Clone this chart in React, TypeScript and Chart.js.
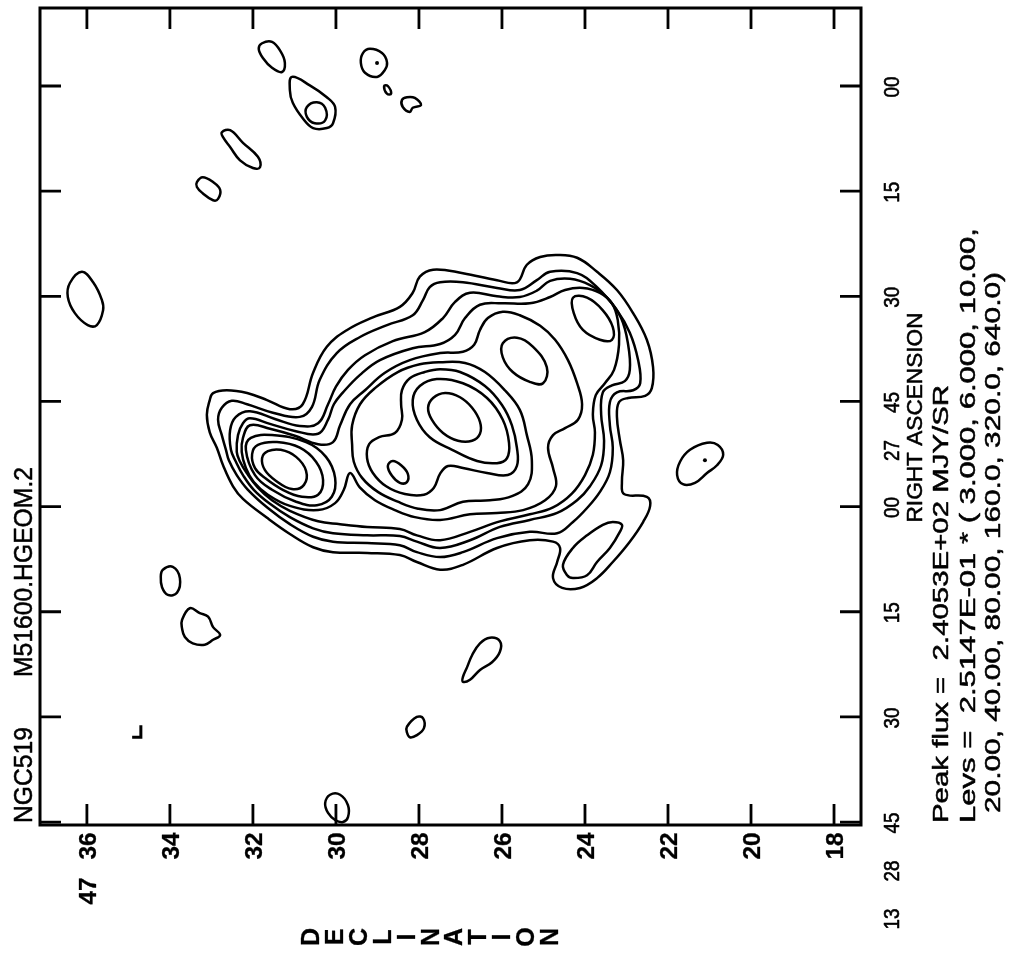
import React, { useEffect, useRef } from 'react';
import { Chart, registerables } from 'chart.js';

Chart.register(...registerables);

// ---- axes (DEC in arcmin past 47 deg, RA in seconds past 13h27m) ----
const decTicks = [36, 34, 32, 30, 28, 26, 24, 22, 20, 18];
const decTickLabels = ['47 36', '34', '32', '30', '28', '26', '24', '22', '20', '18'];
const raTicks = [0, 15, 30, 45, 60, 75, 90, 105];
const raTickLabels = ['00', '15', '30', '27 45', '00', '15', '30', '13 28 45'];
const decRange = [17.35, 37.13];
const raRange = [-11.13, 105.42];

const leftTitle = ['NGC519', 'M51600.HGEOM.2'];
const xTitle = 'DECLINATION';
const yTitle = 'RIGHT ASCENSION';
const peakLine = 'Peak flux =  2.4053E+02 MJY/SR';
const levLine1 = 'Levs =  2.5147E-01 * ( 3.000, 6.000, 10.00,';
const levLine2 = '20.00, 40.00, 80.00, 160.0, 320.0, 640.0)';

type P = [number, number];

// ---- contour paths [DEC, RA] ----
const lev1Main: P[] = [[33.04,44.8],[32.96,43.8],[32.63,43.4],[32.14,43.8],[31.66,44.8],[31.11,46.1],[30.80,45.4],[30.55,40.9],[30.22,37.2],[29.73,34.8],[29.11,33.0],[28.46,31.5],[28.15,29.5],[27.98,27.2],[27.66,26.2],[26.94,26.7],[26.12,27.7],[25.64,28.0],[25.40,25.5],[25.08,24.4],[24.67,24.1],[24.19,24.5],[23.71,26.5],[23.23,29.1],[22.84,32.4],[22.51,36.2],[22.36,40.1],[22.39,43.1],[22.55,44.2],[22.96,44.5],[23.18,45.1],[23.23,47.2],[23.16,50.5],[23.08,53.4],[23.11,56.5],[23.06,58.2],[22.51,58.6],[22.43,59.9],[22.60,62.2],[22.92,65.0],[23.33,67.9],[23.71,70.2],[24.12,71.6],[24.55,71.6],[24.77,70.2],[24.67,67.9],[24.60,65.9],[24.77,65.0],[25.33,64.8],[26.12,65.9],[26.94,68.3],[27.49,69.0],[28.05,67.9],[28.46,66.9],[29.25,66.6],[30.07,66.5],[30.55,65.8],[31.11,63.9],[31.66,61.6],[32.24,58.9],[32.48,57.1],[32.72,54.1],[32.87,51.6],[33.04,49.4],[33.11,46.9]];
const lev2Main: P[] = [[32.84,47.6],[32.75,45.9],[32.51,44.9],[32.14,45.4],[31.52,46.6],[30.87,47.2],[30.58,45.8],[30.39,41.9],[29.98,38.1],[29.42,35.8],[28.77,34.1],[28.15,32.7],[27.90,30.5],[27.74,28.7],[27.49,28.0],[26.94,28.0],[26.12,28.8],[25.57,29.1],[25.16,27.7],[24.84,26.5],[24.19,26.7],[23.71,28.7],[23.23,32.0],[22.92,35.2],[22.72,39.1],[22.67,42.4],[22.84,43.4],[23.23,43.7],[23.40,45.1],[23.40,48.4],[23.33,51.6],[23.40,55.1],[23.64,57.9],[23.95,60.2],[24.29,62.2],[24.67,63.8],[25.33,63.6],[26.12,64.5],[26.94,66.5],[27.49,67.2],[28.05,66.5],[28.46,65.5],[29.25,65.2],[30.07,65.0],[30.55,64.3],[31.11,62.5],[31.64,60.2],[32.12,57.6],[32.39,55.5],[32.58,53.4],[32.65,51.9],[32.75,49.8]];
const lev2Lobe: P[] = [[24.43,69.8],[24.53,68.3],[24.29,65.9],[23.95,64.1],[23.57,62.6],[23.33,62.2],[23.11,62.6],[23.16,63.6],[23.40,65.9],[23.71,67.9],[23.95,69.8],[24.29,70.2]];
const lev3Main: P[] = [[32.53,51.9],[32.55,49.1],[32.41,47.2],[32.07,46.4],[31.47,47.5],[30.87,48.5],[30.43,48.1],[30.19,45.4],[30.00,42.9],[29.71,40.5],[29.30,38.4],[28.63,36.4],[27.86,35.1],[27.42,33.1],[27.13,30.8],[26.77,29.5],[26.12,30.0],[25.57,30.1],[25.16,29.2],[24.84,27.8],[24.36,27.5],[23.88,28.4],[23.47,30.2],[23.13,33.1],[22.96,36.9],[22.92,40.5],[23.04,42.1],[23.35,42.7],[23.57,43.7],[23.61,46.9],[23.54,50.6],[23.61,54.1],[23.88,57.1],[24.19,59.1],[24.67,60.9],[25.33,61.9],[26.05,62.9],[26.77,64.8],[27.49,65.9],[28.05,65.0],[28.46,64.2],[29.25,64.1],[30.07,63.8],[30.55,63.1],[31.11,61.5],[31.59,59.6],[31.98,57.6],[32.24,55.5],[32.41,53.6]];
const lev4Main: P[] = [[32.39,52.2],[32.36,49.8],[32.24,48.1],[32.07,47.4],[31.59,48.2],[30.99,49.2],[30.43,49.6],[30.19,47.6],[30.05,45.4],[29.83,43.7],[29.42,41.2],[28.94,39.1],[28.15,37.4],[27.49,36.8],[27.13,35.5],[26.89,33.1],[26.53,31.2],[25.98,31.0],[25.33,31.0],[24.84,30.1],[24.48,29.1],[24.05,28.8],[23.64,29.5],[23.35,31.0],[23.21,33.4],[23.18,36.9],[23.30,40.5],[23.52,42.4],[23.74,44.1],[23.81,46.9],[23.76,49.4],[23.81,52.6],[24.00,55.5],[24.31,58.1],[24.77,60.1],[25.33,61.1],[26.05,62.1],[26.77,63.6],[27.49,64.8],[28.05,64.1],[28.46,63.2],[29.25,62.9],[29.90,62.5],[30.43,62.1],[31.11,60.6],[31.54,59.1],[31.88,57.3],[32.14,55.3],[32.31,53.6]];
const lev5Main: P[] = [[32.27,52.2],[32.24,50.2],[32.07,48.4],[31.59,48.9],[30.99,49.9],[30.43,51.1],[30.07,50.8],[29.90,48.4],[29.66,45.4],[29.30,43.4],[28.82,40.9],[28.22,39.1],[27.49,38.1],[26.94,37.9],[26.67,36.9],[26.53,34.8],[26.34,33.1],[25.98,32.2],[25.57,32.7],[25.08,34.2],[24.72,36.2],[24.41,39.1],[24.19,42.4],[24.07,45.4],[24.17,47.6],[24.48,48.8],[24.77,49.8],[24.89,51.6],[24.77,54.5],[24.70,57.1],[24.96,59.1],[25.49,60.5],[26.12,60.9],[26.77,61.1],[27.49,61.9],[28.10,61.5],[28.58,60.5],[29.06,59.1],[29.42,57.3],[29.66,55.2],[29.81,57.6],[30.02,59.5],[30.43,60.5],[31.11,59.9],[31.64,58.3],[31.98,56.5],[32.17,54.5]];
const lev5PeakNE: P[] = [[24.29,30.2],[23.95,30.2],[23.57,32.0],[23.33,34.4],[23.35,36.2],[23.64,36.2],[24.05,34.8],[24.27,32.4]];
const lev6Core: P[] = [[29.61,51.2],[29.61,48.4],[29.42,45.4],[29.06,43.1],[28.51,40.8],[27.98,39.7],[27.49,39.4],[26.89,39.5],[26.41,40.8],[25.93,43.4],[25.57,46.2],[25.40,49.8],[25.28,53.4],[25.37,56.8],[25.76,58.5],[26.29,59.1],[26.94,59.3],[27.49,60.5],[28.02,60.3],[28.51,59.3],[28.99,57.9],[29.37,55.9],[29.57,53.6]];
const lev6PeakE: P[] = [[25.98,36.7],[25.64,35.9],[25.25,37.2],[24.92,40.1],[25.01,42.4],[25.33,42.2],[25.74,40.8],[25.98,38.7]];
const lev6West: P[] = [[32.17,51.9],[32.05,50.2],[31.54,49.8],[30.72,50.8],[30.24,52.9],[30.02,55.9],[30.10,58.6],[30.46,59.8],[30.96,59.3],[31.54,57.6],[31.95,55.5]];
const lev7Core: P[] = [[28.43,45.4],[28.41,43.4],[28.22,41.7],[27.86,40.8],[27.49,40.4],[27.01,40.8],[26.41,42.8],[26.00,45.5],[25.76,48.4],[25.64,51.6],[25.64,54.2],[25.86,55.5],[26.36,55.2],[26.94,54.5],[27.30,54.2],[27.49,55.3],[27.64,57.3],[27.88,58.3],[28.34,58.2],[28.79,57.1],[29.11,55.2],[29.25,53.1],[29.20,51.1],[28.96,50.1],[28.58,49.5],[28.41,47.6]];
const lev7West: P[] = [[32.02,52.5],[31.88,51.2],[31.42,50.8],[30.87,51.6],[30.48,53.6],[30.31,56.2],[30.43,58.3],[30.82,58.6],[31.28,57.6],[31.71,55.9],[31.95,54.5]];
const lev8Core: P[] = [[28.15,44.8],[27.98,42.8],[27.57,41.8],[26.94,42.4],[26.36,44.5],[25.98,47.6],[25.83,50.9],[25.88,53.1],[26.12,53.8],[26.60,53.5],[27.20,51.9],[27.74,50.1],[28.05,47.6]];
const lev8Knot: P[] = [[28.75,54.2],[28.63,53.5],[28.43,54.1],[28.27,55.3],[28.29,56.5],[28.46,56.6],[28.65,55.6]];
const lev8West: P[] = [[31.78,53.1],[31.64,52.1],[31.33,51.9],[30.96,52.9],[30.72,54.9],[30.77,56.9],[31.06,57.5],[31.45,56.3],[31.71,54.8]];
const lev9Core: P[] = [[27.78,45.9],[27.66,44.5],[27.37,43.8],[27.01,44.4],[26.72,45.9],[26.53,47.9],[26.53,49.6],[26.72,50.6],[27.06,50.6],[27.42,49.5],[27.69,47.6]];

// isolated outer blobs (lowest level)
const blobA: P[] = [[31.78,-6.1],[31.54,-6.3],[31.33,-4.9],[31.23,-3.3],[31.30,-2.0],[31.54,-2.6],[31.76,-4.0],[31.86,-5.3]];
const blobB: P[] = [[31.06,-1.3],[31.11,0.6],[31.04,2.4],[30.80,4.6],[30.55,6.0],[30.22,6.0],[30.07,5.3],[30.02,3.0],[30.22,1.6],[30.63,-0.1]];
const blobBInner: P[] = [[30.70,3.0],[30.46,2.3],[30.26,3.1],[30.26,4.9],[30.51,5.3],[30.70,4.4]];
const blobC: P[] = [[29.35,-4.7],[29.18,-5.3],[28.89,-4.7],[28.77,-3.4],[28.82,-2.3],[29.01,-1.3],[29.30,-1.9],[29.40,-3.3]];
const blobD: P[] = [[28.84,0.0],[28.75,0.0],[28.67,1.1],[28.77,1.1]];
const blobE: P[] = [[28.41,2.0],[28.29,1.6],[28.10,1.7],[27.95,2.7],[28.15,3.1],[28.22,3.7],[28.39,3.0]];
const blobF: P[] = [[32.75,6.6],[32.55,6.3],[32.24,8.1],[31.88,10.1],[31.83,11.6],[32.00,11.7],[32.31,10.6],[32.55,8.7],[32.72,7.3]];
const blobG: P[] = [[33.35,13.7],[33.21,13.0],[32.96,13.7],[32.79,14.8],[32.84,16.1],[32.96,16.3],[33.21,15.3],[33.35,14.4]];
const blobH: P[] = [[36.41,28.1],[36.12,26.5],[35.85,28.0],[35.64,30.5],[35.61,32.0],[35.76,34.1],[35.98,34.1],[36.29,32.4],[36.46,30.1]];
const blobI: P[] = [[34.17,69.0],[33.93,68.6],[33.76,70.2],[33.83,72.3],[34.05,72.6],[34.19,71.5],[34.22,70.0]];
const blobJ: P[] = [[33.71,76.2],[33.52,74.5],[33.28,75.2],[33.08,75.7],[32.96,77.2],[32.79,78.3],[32.96,79.0],[33.16,79.7],[33.45,79.5],[33.64,78.6],[33.71,77.3]];
const blobK: P[] = [[26.94,84.3],[26.84,82.9],[26.72,81.2],[26.53,79.5],[26.29,78.7],[26.05,79.2],[26.05,80.7],[26.24,82.2],[26.53,83.3],[26.77,84.7],[26.94,85.0]];
const blobL: P[] = [[28.29,91.4],[28.05,90.0],[27.90,90.2],[27.88,91.6],[28.05,92.6],[28.22,92.9],[28.29,92.2]];
const blobM: P[] = [[30.26,102.3],[30.14,101.1],[29.90,101.1],[29.71,102.6],[29.71,104.3],[29.83,105.0],[30.02,104.7],[30.19,103.7]];
const blobN: P[] = [[21.71,53.6],[21.47,51.9],[21.06,50.9],[20.80,51.2],[20.67,52.6],[20.82,54.1],[21.06,55.2],[21.35,56.6],[21.64,56.8],[21.78,55.5]];
const peakDots: P[] = [[29.01,-3.3],[21.11,53.4]];
const beamMark: P[] = [[34.70,91.2],[34.70,92.9],[34.91,92.9]];

const closedContours: P[][] = [
  lev1Main, lev2Main, lev2Lobe, lev3Main, lev4Main, lev5Main, lev5PeakNE,
  lev6Core, lev6PeakE, lev6West, lev7Core, lev7West, lev8Core, lev8Knot, lev8West, lev9Core,
  blobA, blobB, blobBInner, blobC, blobD, blobE, blobF, blobG, blobH, blobI, blobJ, blobK, blobL, blobM, blobN,
];

const FONT = '"Liberation Sans", Arial, sans-serif';

function rotText(ctx: CanvasRenderingContext2D, text: string, bx: number, by: number,
  align: CanvasTextAlign, font: string, fit?: number, thick = 0) {
  ctx.save();
  ctx.translate(bx, by);
  ctx.rotate(-Math.PI / 2);
  ctx.font = font;
  ctx.textAlign = align;
  ctx.textBaseline = 'alphabetic';
  if (fit) {
    const w = ctx.measureText(text).width;
    if (w > 0) ctx.scale(fit / w, 1);
  }
  ctx.fillStyle = '#000';
  ctx.fillText(text, 0, 0);
  if (thick > 0) {
    ctx.strokeStyle = '#000';
    ctx.lineWidth = thick;
    ctx.lineJoin = 'round';
    ctx.strokeText(text, 0, 0);
  }
  ctx.restore();
}

const framePlugin = {
  id: 'frameAndText',
  afterDatasetsUpdate(chart: any) {
    chart.data.datasets.forEach((ds: any, i: number) => {
      if (ds.closedLoop) {
        const line: any = chart.getDatasetMeta(i).dataset;
        if (line) {
          line._loop = true;
          line._fullLoop = true;
          line._pointsUpdated = false;
          line._segments = undefined;
          line._path = undefined;
        }
      }
    });
  },
  afterDraw(chart: any) {
    const ctx: CanvasRenderingContext2D = chart.ctx;
    const { left, right, top, bottom } = chart.chartArea;
    const xs = chart.scales.x;
    const ys = chart.scales.y;
    ctx.save();
    ctx.strokeStyle = '#000';
    ctx.lineCap = 'butt';
    ctx.lineWidth = 3;
    ctx.strokeRect(left, top, right - left, bottom - top);
    ctx.lineWidth = 2.8;
    const tl = 21;
    decTicks.forEach((v) => {
      const x = xs.getPixelForValue(v);
      ctx.beginPath();
      ctx.moveTo(x, bottom); ctx.lineTo(x, bottom - tl);
      ctx.moveTo(x, top); ctx.lineTo(x, top + tl);
      ctx.stroke();
    });
    raTicks.forEach((v) => {
      const y = ys.getPixelForValue(v);
      ctx.beginPath();
      ctx.moveTo(left, y); ctx.lineTo(left + tl, y);
      ctx.moveTo(right, y); ctx.lineTo(right - tl, y);
      ctx.stroke();
    });
    ctx.restore();

    // DEC tick labels (rotated, reading upwards)
    const decFont = `bold 24px ${FONT}`;
    decTicks.forEach((v, i) => {
      const x = xs.getPixelForValue(v);
      const parts = decTickLabels[i].split(' ');
      parts.reverse().forEach((p, k) => {
        rotText(ctx, p, x + 8.7, bottom + 21 + 45 * k, 'center', decFont, 27, 0.3);
      });
    });
    // RA tick labels
    const raFont = `22px ${FONT}`;
    raTicks.forEach((v, i) => {
      const y = ys.getPixelForValue(v);
      const parts = raTickLabels[i].split(' ');
      parts.reverse().forEach((p, k) => {
        rotText(ctx, p, right + 38, y + 1 + 48 * k, 'center', raFont, 21, 0.6);
      });
    });
    // DEC axis title: letters stacked, each rotated
    const letters = xTitle.split('');
    letters.forEach((ch, i) => {
      rotText(ctx, ch, 310 + 23.9 * i + 9, 937, 'center', `bold 25px ${FONT}`, undefined, 0.3);
    });
    // RA axis title and annotations
    rotText(ctx, yTitle, right + 61, (top + bottom) / 2 + 1, 'center', `22px ${FONT}`, 210, 0.5);
    rotText(ctx, peakLine, right + 87, bottom - 2, 'left', `22px ${FONT}`, 438, 0.5);
    rotText(ctx, levLine1, right + 114, bottom - 2, 'left', `22px ${FONT}`, 595, 0.5);
    rotText(ctx, levLine2, right + 139, bottom - 12, 'left', `22px ${FONT}`, 541, 0.5);
    // left header
    rotText(ctx, leftTitle[0], 32, bottom - 2, 'left', `25px ${FONT}`, 96, 0.5);
    rotText(ctx, leftTitle[1], 32, bottom - 148, 'left', `25px ${FONT}`, 210, 0.5);
  },
};

export default function App() {
  const ref = useRef<HTMLCanvasElement | null>(null);
  useEffect(() => {
    document.body.style.margin = '0';
    const canvas = ref.current;
    if (!canvas) return;
    const datasets: any[] = closedContours.map((pts) => ({
      data: pts.map(([x, y]) => ({ x, y })),
      closedLoop: true,
      borderColor: '#000',
      borderWidth: 2.5,
      pointRadius: 0,
      tension: 0.4,
      fill: false,
    }));
    datasets.push({
      data: beamMark.map(([x, y]) => ({ x, y })),
      borderColor: '#000', borderWidth: 3, pointRadius: 0, tension: 0, fill: false,
    });
    datasets.push({
      data: peakDots.map(([x, y]) => ({ x, y })),
      showLine: false, pointRadius: 2, pointBackgroundColor: '#000', pointBorderWidth: 0,
    });
    const chart = new Chart(canvas, {
      type: 'line',
      data: { datasets },
      options: {
        responsive: false,
        animation: false,
        devicePixelRatio: 1,
        events: [],
        layout: { padding: { left: 40, top: 8, right: 150, bottom: 130 } },
        plugins: { legend: { display: false }, tooltip: { enabled: false } },
        scales: {
          x: { type: 'linear', min: decRange[0], max: decRange[1], reverse: true, display: false },
          y: { type: 'linear', min: raRange[0], max: raRange[1], reverse: true, display: false },
        },
      },
      plugins: [framePlugin],
    } as any);
    return () => chart.destroy();
  }, []);
  return (
    <div style={{ position: 'fixed', left: 0, top: 0, width: 1011, height: 955, background: '#fff' }}>
      <canvas ref={ref} width={1011} height={955} />
    </div>
  );
}
